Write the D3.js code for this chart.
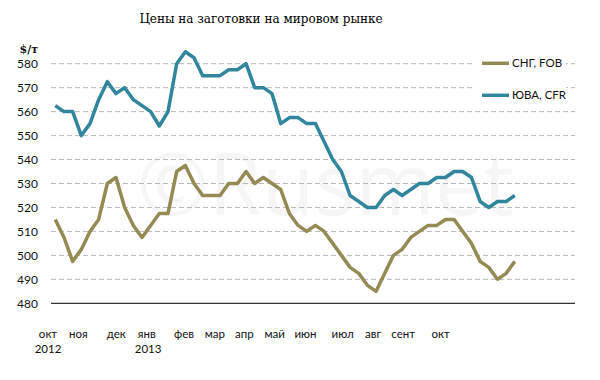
<!DOCTYPE html>
<html><head><meta charset="utf-8">
<script src="https://cdn.jsdelivr.net/npm/d3@7"></script>
<style>body{margin:0;background:#fff}svg{display:block}</style>
</head><body>
<svg id="c" width="600" height="380"></svg>
<script>
const title = "Цены на заготовки на мировом рынке";
const unitLabel = "$/т";
const seriesNames = ["СНГ, FOB", "ЮВА, CFR"];
const seriesColors = ["#948A54", "#31859C"];
// weekly prices, Oct 2012 – Oct 2013
const cisFob = [515,507.5,497.5,502.5,510,515,530,532.5,520,512.5,507.5,512.5,517.5,517.5,535,537.5,530,525,525,525,530,530,535,530,532.5,530,527.5,517.5,512.5,510,512.5,510,505,500,495,492.5,487.5,485,492.5,500,502.5,507.5,510,512.5,512.5,515,515,510,505,497.5,495,490,492.5,497.5];
const seaCfr = [562.5,560,560,550,555,565,572.5,567.5,570,565,562.5,560,554,560,580,585,582.5,575,575,575,577.5,577.5,580,570,570,567.5,555,557.5,557.5,555,555,547.5,540,535,525,522.5,520,520,525,527.5,525,527.5,530,530,532.5,532.5,535,535,532.5,522.5,520,522.5,522.5,525];
const yTicks = [480,490,500,510,520,530,540,550,560,570,580];
const monthLabels = ["окт","ноя","дек","янв","фев","мар","апр","май","июн","июл","авг","сент","окт"];
const monthPos = [-0.84,2.65,7.03,10.55,14.85,18.4,21.8,25.3,28.85,33.15,36.65,40.13,44.45];
const yearLabels = ["2012","2013"];
const yearPos = [-0.84,10.7];

const svg = d3.select("#c");
const x = d3.scaleLinear().domain([0, cisFob.length - 1]).range([55.3, 514.8]);
const y = d3.scaleLinear().domain([480, 580]).range([303.3, 63.7]);
const plotL = 51, plotR = 575;
const font = "Lato, 'Open Sans', sans-serif";

// title
svg.append("text").attr("x", 261).attr("y", 23).attr("text-anchor", "middle")
  .attr("font-family", "'DejaVu Serif', serif").attr("font-size", 12).attr("fill", "#000")
  .text(title);

// watermark
const wm = svg.append("g").attr("fill", "#f6f6f6").attr("font-family", "'Open Sans', sans-serif");
wm.append("text").attr("x", 137).attr("y", 215).attr("font-size", 86).text("©Rusmet");

// gridlines
svg.append("g").selectAll("line").data(yTicks.filter(d => d !== 480)).join("line")
  .attr("x1", plotL).attr("x2", plotR).attr("y1", d => y(d)).attr("y2", d => y(d))
  .attr("stroke", "#b7b7b7").attr("stroke-width", 1).attr("stroke-dasharray", "5,3");

// baseline axis
svg.append("line").attr("x1", plotL).attr("x2", plotR).attr("y1", y(480)).attr("y2", y(480))
  .attr("stroke", "#000").attr("stroke-width", 1);

// y axis labels
const yAxis = d3.axisLeft(y).tickValues(yTicks).tickSize(0).tickPadding(0);
const gy = svg.append("g").attr("transform", "translate(38,0)").call(yAxis);
gy.select(".domain").remove();
gy.selectAll("text").attr("font-family", font).attr("font-size", 12).attr("fill", "#111");

svg.append("text").attr("x", 38).attr("y", 53).attr("text-anchor", "end")
  .attr("font-family", "'DejaVu Serif', serif").attr("font-weight", "bold").attr("font-size", 11).attr("fill", "#111")
  .text(unitLabel);

// x labels
svg.append("g").selectAll("text").data(monthLabels).join("text")
  .attr("x", (d, i) => x(monthPos[i])).attr("y", 338).attr("text-anchor", "middle")
  .attr("font-family", font).attr("font-size", 11.5).attr("fill", "#111").text(d => d);
svg.append("g").selectAll("text").data(yearLabels).join("text")
  .attr("x", (d, i) => x(yearPos[i])).attr("y", 353).attr("text-anchor", "middle")
  .attr("font-family", font).attr("font-size", 11.5).attr("fill", "#111").text(d => d);

// lines
const line = d3.line().x((d, i) => x(i)).y(d => y(d));
[cisFob, seaCfr].forEach((s, k) => {
  svg.append("path").datum(s).attr("d", line).attr("fill", "none")
    .attr("stroke", seriesColors[k]).attr("stroke-width", 3.5).attr("stroke-linejoin", "round");
});

// legend
const lg = svg.append("g");
lg.append("rect").attr("x", 473).attr("y", 50).attr("width", 93).attr("height", 55).attr("fill", "#fff");
seriesNames.forEach((n, k) => {
  const yy = 63.3 + k * 32;
  lg.append("line").attr("x1", 482).attr("x2", 509).attr("y1", yy).attr("y2", yy)
    .attr("stroke", seriesColors[k]).attr("stroke-width", 3.5);
  lg.append("text").attr("x", 512).attr("y", yy).attr("dy", "0.35em")
    .attr("font-family", font).attr("font-size", 11.5).attr("fill", "#111").text(n);
});
</script>
</body></html>
